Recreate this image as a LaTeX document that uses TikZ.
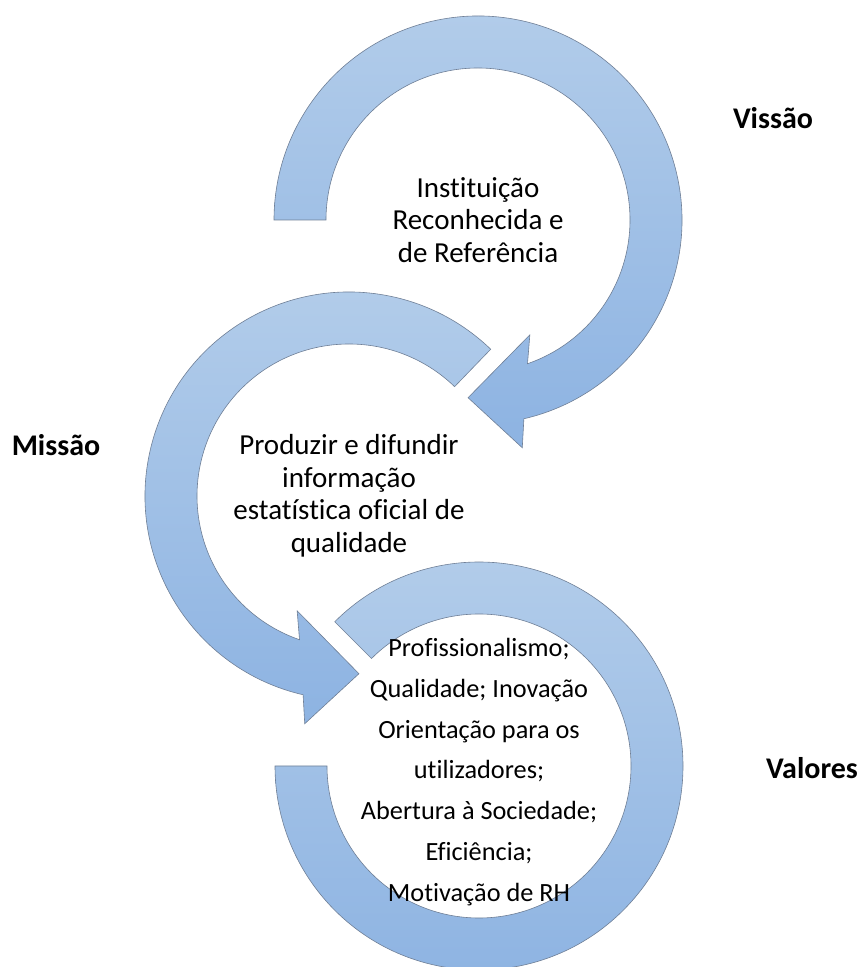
\documentclass[tikz,border=0pt]{standalone}
\usepackage{fontspec}
\setmainfont[Ligatures={NoCommon}]{Carlito}
\usepackage{tikz}
\definecolor{ringtop}{HTML}{B3CDEA}
\definecolor{ringbottom}{HTML}{8DB3E2}
\definecolor{ringline}{HTML}{6F7F96}
\tikzset{
x=1pt, y=1pt, % one unit is one pixel of the reference
ringarrow/.style={top color=ringtop, bottom color=ringbottom, draw=ringline, line width=0.6pt}, % the blue circular arrows
ringtext/.style={align=center, font=\fontsize{29}{32.5}\selectfont}, % text inside a ring
ringlabel/.style={font=\fontsize{30}{36}\selectfont\bfseries}, % bold names beside the rings
}

\begin{document}
\begin{tikzpicture}
    \useasboundingbox (0,0) rectangle (865,967);

    \coordinate (c1) at (478,747);
    \coordinate (c2) at (349,471);
    \coordinate (c3) at (479,201);

    % arrow of the vision, clockwise
    \draw[ringarrow, shift={(c1)}] (180:152) arc[start angle=180, end angle=-71, radius=152]
        -- (-65.7:126) -- (-93.2:178) -- (-79:232) -- (-77:204)
        arc[start angle=-77, end angle=180, radius=204] -- cycle;
    % arrow of the mission, counter-clockwise
    \draw[ringarrow, shift={(c2)}] (46:152) arc[start angle=46, end angle=251, radius=152]
        -- (245.7:126) -- (273.2:178) -- (259:232) -- (257:204)
        arc[start angle=257, end angle=46, radius=204] -- cycle;
    % ring of the values
    \draw[ringarrow, shift={(c3)}] (135:204) arc[start angle=135, end angle=-180, radius=204]
        -- (180:152) arc[start angle=-180, end angle=135, radius=152] -- cycle;

    \node[ringtext] (visao) at (c1) {Instituição\\Reconhecida e\\de Referência};
    \node[ringtext] (missao) at (c2) {Produzir e difundir\\informação\\estatística oficial de\\qualidade};
    \node[ringtext, font=\fontsize{26.3}{40.8}\selectfont] (valores) at (479,195)
        {Profissionalismo;\\Qualidade; Inovação\\Orientação para os\\utilizadores;\\Abertura à Sociedade;\\Eficiência;\\Motivação de RH};

    \node[ringlabel] (visao label) at (773,849) {Vissão};
    \node[ringlabel] (missao label) at (56,522) {Missão};
    \node[ringlabel] (valores label) at (812,199) {Valores};
\end{tikzpicture}
\end{document}
